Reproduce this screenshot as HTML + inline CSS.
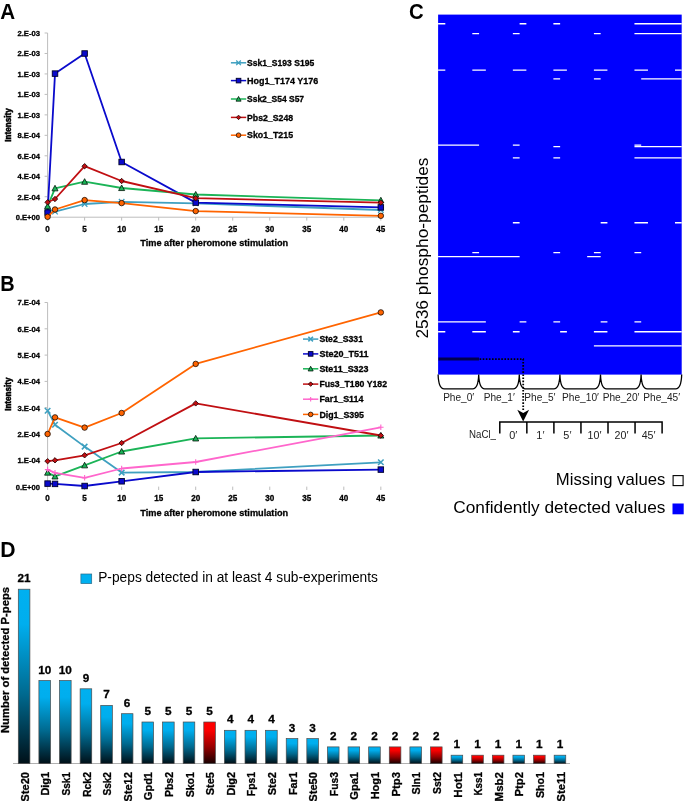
<!DOCTYPE html>
<html lang="en"><head><meta charset="utf-8"><title>Figure</title>
<style>html,body{margin:0;padding:0;background:#fff}svg{display:block}text{font-family:'Liberation Sans', sans-serif}</style>
</head><body>
<svg width="685" height="801" viewBox="0 0 685 801">
<rect width="685" height="801" fill="#fff"/>
<g id="panelA">
<path d="M47.60 33.00V217.20" fill="none" stroke="#bdbdbd" stroke-width="1"/>
<path d="M47.60 217.20H380.83" fill="none" stroke="#bdbdbd" stroke-width="1"/>
<path d="M44.60 217.20H47.60" stroke="#bdbdbd" stroke-width="1"/>
<text x="40.00" y="220.10" font-size="8.05" font-weight="bold" stroke="#000" stroke-width="0.3" text-anchor="end" textLength="24.27" lengthAdjust="spacingAndGlyphs">0.E+00</text>
<path d="M44.60 196.73H47.60" stroke="#bdbdbd" stroke-width="1"/>
<text x="40.00" y="199.63" font-size="8.05" font-weight="bold" stroke="#000" stroke-width="0.3" text-anchor="end" textLength="22.59" lengthAdjust="spacingAndGlyphs">2.E-04</text>
<path d="M44.60 176.27H47.60" stroke="#bdbdbd" stroke-width="1"/>
<text x="40.00" y="179.17" font-size="8.05" font-weight="bold" stroke="#000" stroke-width="0.3" text-anchor="end" textLength="22.59" lengthAdjust="spacingAndGlyphs">4.E-04</text>
<path d="M44.60 155.80H47.60" stroke="#bdbdbd" stroke-width="1"/>
<text x="40.00" y="158.70" font-size="8.05" font-weight="bold" stroke="#000" stroke-width="0.3" text-anchor="end" textLength="22.59" lengthAdjust="spacingAndGlyphs">6.E-04</text>
<path d="M44.60 135.33H47.60" stroke="#bdbdbd" stroke-width="1"/>
<text x="40.00" y="138.23" font-size="8.05" font-weight="bold" stroke="#000" stroke-width="0.3" text-anchor="end" textLength="22.59" lengthAdjust="spacingAndGlyphs">8.E-04</text>
<path d="M44.60 114.87H47.60" stroke="#bdbdbd" stroke-width="1"/>
<text x="40.00" y="117.77" font-size="8.05" font-weight="bold" stroke="#000" stroke-width="0.3" text-anchor="end" textLength="22.59" lengthAdjust="spacingAndGlyphs">1.E-03</text>
<path d="M44.60 94.40H47.60" stroke="#bdbdbd" stroke-width="1"/>
<text x="40.00" y="97.30" font-size="8.05" font-weight="bold" stroke="#000" stroke-width="0.3" text-anchor="end" textLength="22.59" lengthAdjust="spacingAndGlyphs">1.E-03</text>
<path d="M44.60 73.93H47.60" stroke="#bdbdbd" stroke-width="1"/>
<text x="40.00" y="76.83" font-size="8.05" font-weight="bold" stroke="#000" stroke-width="0.3" text-anchor="end" textLength="22.59" lengthAdjust="spacingAndGlyphs">1.E-03</text>
<path d="M44.60 53.47H47.60" stroke="#bdbdbd" stroke-width="1"/>
<text x="40.00" y="56.37" font-size="8.05" font-weight="bold" stroke="#000" stroke-width="0.3" text-anchor="end" textLength="22.59" lengthAdjust="spacingAndGlyphs">2.E-03</text>
<path d="M44.60 33.00H47.60" stroke="#bdbdbd" stroke-width="1"/>
<text x="40.00" y="35.90" font-size="8.05" font-weight="bold" stroke="#000" stroke-width="0.3" text-anchor="end" textLength="22.59" lengthAdjust="spacingAndGlyphs">2.E-03</text>
<path d="M47.60 217.20v3.4" stroke="#bdbdbd" stroke-width="1"/>
<text x="47.60" y="231.60" font-size="8.19" font-weight="bold" stroke="#000" stroke-width="0.3" text-anchor="middle" textLength="4.51" lengthAdjust="spacingAndGlyphs">0</text>
<path d="M84.62 217.20v3.4" stroke="#bdbdbd" stroke-width="1"/>
<text x="84.62" y="231.60" font-size="8.19" font-weight="bold" stroke="#000" stroke-width="0.3" text-anchor="middle" textLength="4.51" lengthAdjust="spacingAndGlyphs">5</text>
<path d="M121.65 217.20v3.4" stroke="#bdbdbd" stroke-width="1"/>
<text x="121.65" y="231.60" font-size="8.19" font-weight="bold" stroke="#000" stroke-width="0.3" text-anchor="middle" textLength="9.02" lengthAdjust="spacingAndGlyphs">10</text>
<path d="M158.68 217.20v3.4" stroke="#bdbdbd" stroke-width="1"/>
<text x="158.68" y="231.60" font-size="8.19" font-weight="bold" stroke="#000" stroke-width="0.3" text-anchor="middle" textLength="9.02" lengthAdjust="spacingAndGlyphs">15</text>
<path d="M195.70 217.20v3.4" stroke="#bdbdbd" stroke-width="1"/>
<text x="195.70" y="231.60" font-size="8.19" font-weight="bold" stroke="#000" stroke-width="0.3" text-anchor="middle" textLength="9.02" lengthAdjust="spacingAndGlyphs">20</text>
<path d="M232.72 217.20v3.4" stroke="#bdbdbd" stroke-width="1"/>
<text x="232.72" y="231.60" font-size="8.19" font-weight="bold" stroke="#000" stroke-width="0.3" text-anchor="middle" textLength="9.02" lengthAdjust="spacingAndGlyphs">25</text>
<path d="M269.75 217.20v3.4" stroke="#bdbdbd" stroke-width="1"/>
<text x="269.75" y="231.60" font-size="8.19" font-weight="bold" stroke="#000" stroke-width="0.3" text-anchor="middle" textLength="9.02" lengthAdjust="spacingAndGlyphs">30</text>
<path d="M306.78 217.20v3.4" stroke="#bdbdbd" stroke-width="1"/>
<text x="306.78" y="231.60" font-size="8.19" font-weight="bold" stroke="#000" stroke-width="0.3" text-anchor="middle" textLength="9.02" lengthAdjust="spacingAndGlyphs">35</text>
<path d="M343.80 217.20v3.4" stroke="#bdbdbd" stroke-width="1"/>
<text x="343.80" y="231.60" font-size="8.19" font-weight="bold" stroke="#000" stroke-width="0.3" text-anchor="middle" textLength="9.02" lengthAdjust="spacingAndGlyphs">40</text>
<path d="M380.83 217.20v3.4" stroke="#bdbdbd" stroke-width="1"/>
<text x="380.83" y="231.60" font-size="8.19" font-weight="bold" stroke="#000" stroke-width="0.3" text-anchor="middle" textLength="9.02" lengthAdjust="spacingAndGlyphs">45</text>
<text x="214.21" y="246.00" font-size="9.48" font-weight="bold" stroke="#000" stroke-width="0.3" text-anchor="middle" textLength="147.92" lengthAdjust="spacingAndGlyphs">Time after pheromone stimulation</text>
<text x="10.90" y="125.00" font-size="8.37" font-weight="bold" stroke="#000" stroke-width="0.5" text-anchor="middle" textLength="33.28" lengthAdjust="spacingAndGlyphs" transform="rotate(-90 10.90 125.00)">Intensity</text>
<path d="M47.60 209.30L55.01 211.60L84.62 204.00L121.65 201.80L195.70 203.40L380.83 210.00" fill="none" stroke="#3fa0c0" stroke-width="1.8" stroke-linejoin="round"/>
<path d="M44.85 206.55L50.35 212.05M44.85 212.05L50.35 206.55M44.85 209.30L50.35 209.30" fill="none" stroke="#3fa0c0" stroke-width="1.3"/>
<path d="M52.26 208.85L57.76 214.35M52.26 214.35L57.76 208.85M52.26 211.60L57.76 211.60" fill="none" stroke="#3fa0c0" stroke-width="1.3"/>
<path d="M81.88 201.25L87.38 206.75M81.88 206.75L87.38 201.25M81.88 204.00L87.38 204.00" fill="none" stroke="#3fa0c0" stroke-width="1.3"/>
<path d="M118.90 199.05L124.40 204.55M118.90 204.55L124.40 199.05M118.90 201.80L124.40 201.80" fill="none" stroke="#3fa0c0" stroke-width="1.3"/>
<path d="M192.95 200.65L198.45 206.15M192.95 206.15L198.45 200.65M192.95 203.40L198.45 203.40" fill="none" stroke="#3fa0c0" stroke-width="1.3"/>
<path d="M378.08 207.25L383.58 212.75M378.08 212.75L383.58 207.25M378.08 210.00L383.58 210.00" fill="none" stroke="#3fa0c0" stroke-width="1.3"/>
<path d="M47.60 212.60L55.01 73.60L84.62 53.50L121.65 162.00L195.70 202.60L380.83 207.40" fill="none" stroke="#0a0acc" stroke-width="1.8" stroke-linejoin="round"/>
<rect x="44.85" y="209.85" width="5.50" height="5.50" fill="#0a0acc" stroke="#000028" stroke-width="0.9"/>
<rect x="52.26" y="70.85" width="5.50" height="5.50" fill="#0a0acc" stroke="#000028" stroke-width="0.9"/>
<rect x="81.88" y="50.75" width="5.50" height="5.50" fill="#0a0acc" stroke="#000028" stroke-width="0.9"/>
<rect x="118.90" y="159.25" width="5.50" height="5.50" fill="#0a0acc" stroke="#000028" stroke-width="0.9"/>
<rect x="192.95" y="199.85" width="5.50" height="5.50" fill="#0a0acc" stroke="#000028" stroke-width="0.9"/>
<rect x="378.08" y="204.65" width="5.50" height="5.50" fill="#0a0acc" stroke="#000028" stroke-width="0.9"/>
<path d="M47.60 206.30L55.01 188.30L84.62 181.70L121.65 188.00L195.70 194.50L380.83 200.30" fill="none" stroke="#1bb457" stroke-width="1.8" stroke-linejoin="round"/>
<path d="M47.60 203.28L50.62 208.87L44.58 208.87Z" fill="#1bb457" stroke="#001408" stroke-width="0.8"/>
<path d="M55.01 185.28L58.03 190.87L51.98 190.87Z" fill="#1bb457" stroke="#001408" stroke-width="0.8"/>
<path d="M84.62 178.67L87.65 184.27L81.60 184.27Z" fill="#1bb457" stroke="#001408" stroke-width="0.8"/>
<path d="M121.65 184.97L124.68 190.57L118.62 190.57Z" fill="#1bb457" stroke="#001408" stroke-width="0.8"/>
<path d="M195.70 191.47L198.72 197.07L192.67 197.07Z" fill="#1bb457" stroke="#001408" stroke-width="0.8"/>
<path d="M380.83 197.28L383.85 202.87L377.80 202.87Z" fill="#1bb457" stroke="#001408" stroke-width="0.8"/>
<path d="M47.60 202.30L55.01 199.00L84.62 166.20L121.65 181.00L195.70 198.20L380.83 202.60" fill="none" stroke="#c00f12" stroke-width="1.8" stroke-linejoin="round"/>
<path d="M47.60 199.61L50.30 202.30L47.60 205.00L44.91 202.30Z" fill="#c00f12" stroke="#1a0000" stroke-width="0.8"/>
<path d="M55.01 196.31L57.70 199.00L55.01 201.69L52.31 199.00Z" fill="#c00f12" stroke="#1a0000" stroke-width="0.8"/>
<path d="M84.62 163.50L87.32 166.20L84.62 168.89L81.93 166.20Z" fill="#c00f12" stroke="#1a0000" stroke-width="0.8"/>
<path d="M121.65 178.31L124.34 181.00L121.65 183.69L118.96 181.00Z" fill="#c00f12" stroke="#1a0000" stroke-width="0.8"/>
<path d="M195.70 195.50L198.39 198.20L195.70 200.89L193.00 198.20Z" fill="#c00f12" stroke="#1a0000" stroke-width="0.8"/>
<path d="M380.83 199.91L383.52 202.60L380.83 205.29L378.13 202.60Z" fill="#c00f12" stroke="#1a0000" stroke-width="0.8"/>
<path d="M47.60 216.80L55.01 209.50L84.62 200.10L121.65 203.10L195.70 211.10L380.83 215.80" fill="none" stroke="#ff6400" stroke-width="1.8" stroke-linejoin="round"/>
<circle cx="47.60" cy="216.80" r="2.75" fill="#ff6400" stroke="#1a0a00" stroke-width="0.8"/>
<circle cx="55.01" cy="209.50" r="2.75" fill="#ff6400" stroke="#1a0a00" stroke-width="0.8"/>
<circle cx="84.62" cy="200.10" r="2.75" fill="#ff6400" stroke="#1a0a00" stroke-width="0.8"/>
<circle cx="121.65" cy="203.10" r="2.75" fill="#ff6400" stroke="#1a0a00" stroke-width="0.8"/>
<circle cx="195.70" cy="211.10" r="2.75" fill="#ff6400" stroke="#1a0a00" stroke-width="0.8"/>
<circle cx="380.83" cy="215.80" r="2.75" fill="#ff6400" stroke="#1a0a00" stroke-width="0.8"/>
<path d="M230.90 62.80H246.20" stroke="#3fa0c0" stroke-width="1.5"/>
<path d="M236.25 60.50L240.85 65.10M236.25 65.10L240.85 60.50M236.25 62.80L240.85 62.80" fill="none" stroke="#3fa0c0" stroke-width="1.3"/>
<text x="247.00" y="65.90" font-size="9.3" font-weight="bold" stroke="#000" stroke-width="0.3" textLength="67.20" lengthAdjust="spacingAndGlyphs">Ssk1_S193 S195</text>
<path d="M230.90 80.60H246.20" stroke="#0a0acc" stroke-width="1.5"/>
<rect x="236.25" y="78.30" width="4.60" height="4.60" fill="#0a0acc" stroke="#000028" stroke-width="0.9"/>
<text x="247.00" y="83.70" font-size="9.3" font-weight="bold" stroke="#000" stroke-width="0.3" textLength="71.30" lengthAdjust="spacingAndGlyphs">Hog1_T174 Y176</text>
<path d="M230.90 99.00H246.20" stroke="#1bb457" stroke-width="1.5"/>
<path d="M238.55 96.47L241.08 101.15L236.02 101.15Z" fill="#1bb457" stroke="#001408" stroke-width="0.8"/>
<text x="247.00" y="102.10" font-size="9.3" font-weight="bold" stroke="#000" stroke-width="0.3" textLength="57.10" lengthAdjust="spacingAndGlyphs">Ssk2_S54 S57</text>
<path d="M230.90 117.40H246.20" stroke="#c00f12" stroke-width="1.5"/>
<path d="M238.55 115.15L240.80 117.40L238.55 119.65L236.30 117.40Z" fill="#c00f12" stroke="#1a0000" stroke-width="0.8"/>
<text x="247.00" y="120.50" font-size="9.3" font-weight="bold" stroke="#000" stroke-width="0.3" textLength="46.10" lengthAdjust="spacingAndGlyphs">Pbs2_S248</text>
<path d="M230.90 135.20H246.20" stroke="#ff6400" stroke-width="1.5"/>
<circle cx="238.55" cy="135.20" r="2.30" fill="#ff6400" stroke="#1a0a00" stroke-width="0.8"/>
<text x="247.00" y="138.30" font-size="9.3" font-weight="bold" stroke="#000" stroke-width="0.3" textLength="46.10" lengthAdjust="spacingAndGlyphs">Sko1_T215</text>
<text x="0.20" y="18.90" font-size="22.1" font-weight="bold" textLength="14.90" lengthAdjust="spacingAndGlyphs">A</text>
</g>
<g id="panelB">
<path d="M47.60 302.50V486.60" fill="none" stroke="#bdbdbd" stroke-width="1"/>
<path d="M44.60 486.60H47.60" stroke="#bdbdbd" stroke-width="1"/>
<text x="40.00" y="489.50" font-size="8.05" font-weight="bold" stroke="#000" stroke-width="0.3" text-anchor="end" textLength="24.27" lengthAdjust="spacingAndGlyphs">0.E+00</text>
<path d="M44.60 460.30H47.60" stroke="#bdbdbd" stroke-width="1"/>
<text x="40.00" y="463.20" font-size="8.05" font-weight="bold" stroke="#000" stroke-width="0.3" text-anchor="end" textLength="22.59" lengthAdjust="spacingAndGlyphs">1.E-04</text>
<path d="M44.60 434.00H47.60" stroke="#bdbdbd" stroke-width="1"/>
<text x="40.00" y="436.90" font-size="8.05" font-weight="bold" stroke="#000" stroke-width="0.3" text-anchor="end" textLength="22.59" lengthAdjust="spacingAndGlyphs">2.E-04</text>
<path d="M44.60 407.70H47.60" stroke="#bdbdbd" stroke-width="1"/>
<text x="40.00" y="410.60" font-size="8.05" font-weight="bold" stroke="#000" stroke-width="0.3" text-anchor="end" textLength="22.59" lengthAdjust="spacingAndGlyphs">3.E-04</text>
<path d="M44.60 381.40H47.60" stroke="#bdbdbd" stroke-width="1"/>
<text x="40.00" y="384.30" font-size="8.05" font-weight="bold" stroke="#000" stroke-width="0.3" text-anchor="end" textLength="22.59" lengthAdjust="spacingAndGlyphs">4.E-04</text>
<path d="M44.60 355.10H47.60" stroke="#bdbdbd" stroke-width="1"/>
<text x="40.00" y="358.00" font-size="8.05" font-weight="bold" stroke="#000" stroke-width="0.3" text-anchor="end" textLength="22.59" lengthAdjust="spacingAndGlyphs">5.E-04</text>
<path d="M44.60 328.80H47.60" stroke="#bdbdbd" stroke-width="1"/>
<text x="40.00" y="331.70" font-size="8.05" font-weight="bold" stroke="#000" stroke-width="0.3" text-anchor="end" textLength="22.59" lengthAdjust="spacingAndGlyphs">6.E-04</text>
<path d="M44.60 302.50H47.60" stroke="#bdbdbd" stroke-width="1"/>
<text x="40.00" y="305.40" font-size="8.05" font-weight="bold" stroke="#000" stroke-width="0.3" text-anchor="end" textLength="22.59" lengthAdjust="spacingAndGlyphs">7.E-04</text>
<path d="M47.60 486.60v3.4" stroke="#bdbdbd" stroke-width="1"/>
<text x="47.60" y="501.40" font-size="8.19" font-weight="bold" stroke="#000" stroke-width="0.3" text-anchor="middle" textLength="4.51" lengthAdjust="spacingAndGlyphs">0</text>
<path d="M84.62 486.60v3.4" stroke="#bdbdbd" stroke-width="1"/>
<text x="84.62" y="501.40" font-size="8.19" font-weight="bold" stroke="#000" stroke-width="0.3" text-anchor="middle" textLength="4.51" lengthAdjust="spacingAndGlyphs">5</text>
<path d="M121.65 486.60v3.4" stroke="#bdbdbd" stroke-width="1"/>
<text x="121.65" y="501.40" font-size="8.19" font-weight="bold" stroke="#000" stroke-width="0.3" text-anchor="middle" textLength="9.02" lengthAdjust="spacingAndGlyphs">10</text>
<path d="M158.68 486.60v3.4" stroke="#bdbdbd" stroke-width="1"/>
<text x="158.68" y="501.40" font-size="8.19" font-weight="bold" stroke="#000" stroke-width="0.3" text-anchor="middle" textLength="9.02" lengthAdjust="spacingAndGlyphs">15</text>
<path d="M195.70 486.60v3.4" stroke="#bdbdbd" stroke-width="1"/>
<text x="195.70" y="501.40" font-size="8.19" font-weight="bold" stroke="#000" stroke-width="0.3" text-anchor="middle" textLength="9.02" lengthAdjust="spacingAndGlyphs">20</text>
<path d="M232.72 486.60v3.4" stroke="#bdbdbd" stroke-width="1"/>
<text x="232.72" y="501.40" font-size="8.19" font-weight="bold" stroke="#000" stroke-width="0.3" text-anchor="middle" textLength="9.02" lengthAdjust="spacingAndGlyphs">25</text>
<path d="M269.75 486.60v3.4" stroke="#bdbdbd" stroke-width="1"/>
<text x="269.75" y="501.40" font-size="8.19" font-weight="bold" stroke="#000" stroke-width="0.3" text-anchor="middle" textLength="9.02" lengthAdjust="spacingAndGlyphs">30</text>
<path d="M306.78 486.60v3.4" stroke="#bdbdbd" stroke-width="1"/>
<text x="306.78" y="501.40" font-size="8.19" font-weight="bold" stroke="#000" stroke-width="0.3" text-anchor="middle" textLength="9.02" lengthAdjust="spacingAndGlyphs">35</text>
<path d="M343.80 486.60v3.4" stroke="#bdbdbd" stroke-width="1"/>
<text x="343.80" y="501.40" font-size="8.19" font-weight="bold" stroke="#000" stroke-width="0.3" text-anchor="middle" textLength="9.02" lengthAdjust="spacingAndGlyphs">40</text>
<path d="M380.83 486.60v3.4" stroke="#bdbdbd" stroke-width="1"/>
<text x="380.83" y="501.40" font-size="8.19" font-weight="bold" stroke="#000" stroke-width="0.3" text-anchor="middle" textLength="9.02" lengthAdjust="spacingAndGlyphs">45</text>
<text x="214.21" y="515.60" font-size="9.48" font-weight="bold" stroke="#000" stroke-width="0.3" text-anchor="middle" textLength="147.92" lengthAdjust="spacingAndGlyphs">Time after pheromone stimulation</text>
<text x="10.90" y="394.20" font-size="8.37" font-weight="bold" stroke="#000" stroke-width="0.5" text-anchor="middle" textLength="33.28" lengthAdjust="spacingAndGlyphs" transform="rotate(-90 10.90 394.20)">Intensity</text>
<path d="M47.60 410.70L55.01 424.70L84.62 446.60L121.65 472.60L195.70 472.00L380.83 462.30" fill="none" stroke="#3fa0c0" stroke-width="1.8" stroke-linejoin="round"/>
<path d="M44.85 407.95L50.35 413.45M44.85 413.45L50.35 407.95" fill="none" stroke="#3fa0c0" stroke-width="1.6"/>
<path d="M52.26 421.95L57.76 427.45M52.26 427.45L57.76 421.95" fill="none" stroke="#3fa0c0" stroke-width="1.6"/>
<path d="M81.88 443.85L87.38 449.35M81.88 449.35L87.38 443.85" fill="none" stroke="#3fa0c0" stroke-width="1.6"/>
<path d="M118.90 469.85L124.40 475.35M118.90 475.35L124.40 469.85" fill="none" stroke="#3fa0c0" stroke-width="1.6"/>
<path d="M192.95 469.25L198.45 474.75M192.95 474.75L198.45 469.25" fill="none" stroke="#3fa0c0" stroke-width="1.6"/>
<path d="M378.08 459.55L383.58 465.05M378.08 465.05L383.58 459.55" fill="none" stroke="#3fa0c0" stroke-width="1.6"/>
<path d="M47.60 483.60L55.01 483.90L84.62 486.00L121.65 481.30L195.70 472.00L380.83 469.60" fill="none" stroke="#0a0acc" stroke-width="1.8" stroke-linejoin="round"/>
<rect x="44.85" y="480.85" width="5.50" height="5.50" fill="#0a0acc" stroke="#000028" stroke-width="0.9"/>
<rect x="52.26" y="481.15" width="5.50" height="5.50" fill="#0a0acc" stroke="#000028" stroke-width="0.9"/>
<rect x="81.88" y="483.25" width="5.50" height="5.50" fill="#0a0acc" stroke="#000028" stroke-width="0.9"/>
<rect x="118.90" y="478.55" width="5.50" height="5.50" fill="#0a0acc" stroke="#000028" stroke-width="0.9"/>
<rect x="192.95" y="469.25" width="5.50" height="5.50" fill="#0a0acc" stroke="#000028" stroke-width="0.9"/>
<rect x="378.08" y="466.85" width="5.50" height="5.50" fill="#0a0acc" stroke="#000028" stroke-width="0.9"/>
<path d="M47.60 472.60L55.01 476.40L84.62 465.30L121.65 451.50L195.70 438.40L380.83 435.50" fill="none" stroke="#1bb457" stroke-width="1.8" stroke-linejoin="round"/>
<path d="M47.60 469.58L50.62 475.17L44.58 475.17Z" fill="#1bb457" stroke="#001408" stroke-width="0.8"/>
<path d="M55.01 473.38L58.03 478.97L51.98 478.97Z" fill="#1bb457" stroke="#001408" stroke-width="0.8"/>
<path d="M84.62 462.28L87.65 467.87L81.60 467.87Z" fill="#1bb457" stroke="#001408" stroke-width="0.8"/>
<path d="M121.65 448.48L124.68 454.07L118.62 454.07Z" fill="#1bb457" stroke="#001408" stroke-width="0.8"/>
<path d="M195.70 435.38L198.72 440.97L192.67 440.97Z" fill="#1bb457" stroke="#001408" stroke-width="0.8"/>
<path d="M380.83 432.48L383.85 438.07L377.80 438.07Z" fill="#1bb457" stroke="#001408" stroke-width="0.8"/>
<path d="M47.60 461.20L55.01 460.30L84.62 455.30L121.65 443.00L195.70 403.40L380.83 435.50" fill="none" stroke="#c00f12" stroke-width="1.8" stroke-linejoin="round"/>
<path d="M47.60 458.50L50.30 461.20L47.60 463.89L44.91 461.20Z" fill="#c00f12" stroke="#1a0000" stroke-width="0.8"/>
<path d="M55.01 457.61L57.70 460.30L55.01 463.00L52.31 460.30Z" fill="#c00f12" stroke="#1a0000" stroke-width="0.8"/>
<path d="M84.62 452.61L87.32 455.30L84.62 458.00L81.93 455.30Z" fill="#c00f12" stroke="#1a0000" stroke-width="0.8"/>
<path d="M121.65 440.31L124.34 443.00L121.65 445.69L118.96 443.00Z" fill="#c00f12" stroke="#1a0000" stroke-width="0.8"/>
<path d="M195.70 400.70L198.39 403.40L195.70 406.09L193.00 403.40Z" fill="#c00f12" stroke="#1a0000" stroke-width="0.8"/>
<path d="M380.83 432.81L383.52 435.50L380.83 438.19L378.13 435.50Z" fill="#c00f12" stroke="#1a0000" stroke-width="0.8"/>
<path d="M47.60 469.60L55.01 472.80L84.62 477.80L121.65 468.50L195.70 462.00L380.83 427.30" fill="none" stroke="#ff66cc" stroke-width="1.8" stroke-linejoin="round"/>
<path d="M44.85 469.60L50.35 469.60M47.60 466.85L47.60 472.35" fill="none" stroke="#ff66cc" stroke-width="1.1"/>
<path d="M52.26 472.80L57.76 472.80M55.01 470.05L55.01 475.55" fill="none" stroke="#ff66cc" stroke-width="1.1"/>
<path d="M81.88 477.80L87.38 477.80M84.62 475.05L84.62 480.55" fill="none" stroke="#ff66cc" stroke-width="1.1"/>
<path d="M118.90 468.50L124.40 468.50M121.65 465.75L121.65 471.25" fill="none" stroke="#ff66cc" stroke-width="1.1"/>
<path d="M192.95 462.00L198.45 462.00M195.70 459.25L195.70 464.75" fill="none" stroke="#ff66cc" stroke-width="1.1"/>
<path d="M378.08 427.30L383.58 427.30M380.83 424.55L380.83 430.05" fill="none" stroke="#ff66cc" stroke-width="1.1"/>
<path d="M47.60 434.00L55.01 417.40L84.62 427.60L121.65 413.00L195.70 363.90L380.83 312.40" fill="none" stroke="#ff6400" stroke-width="1.8" stroke-linejoin="round"/>
<circle cx="47.60" cy="434.00" r="2.75" fill="#ff6400" stroke="#1a0a00" stroke-width="0.8"/>
<circle cx="55.01" cy="417.40" r="2.75" fill="#ff6400" stroke="#1a0a00" stroke-width="0.8"/>
<circle cx="84.62" cy="427.60" r="2.75" fill="#ff6400" stroke="#1a0a00" stroke-width="0.8"/>
<circle cx="121.65" cy="413.00" r="2.75" fill="#ff6400" stroke="#1a0a00" stroke-width="0.8"/>
<circle cx="195.70" cy="363.90" r="2.75" fill="#ff6400" stroke="#1a0a00" stroke-width="0.8"/>
<circle cx="380.83" cy="312.40" r="2.75" fill="#ff6400" stroke="#1a0a00" stroke-width="0.8"/>
<path d="M303.00 339.10H318.30" stroke="#3fa0c0" stroke-width="1.5"/>
<path d="M308.35 336.80L312.95 341.40M308.35 341.40L312.95 336.80" fill="none" stroke="#3fa0c0" stroke-width="1.6"/>
<text x="319.40" y="342.20" font-size="9.3" font-weight="bold" stroke="#000" stroke-width="0.3" textLength="43.60" lengthAdjust="spacingAndGlyphs">Ste2_S331</text>
<path d="M303.00 353.90H318.30" stroke="#0a0acc" stroke-width="1.5"/>
<rect x="308.35" y="351.60" width="4.60" height="4.60" fill="#0a0acc" stroke="#000028" stroke-width="0.9"/>
<text x="319.40" y="357.00" font-size="9.3" font-weight="bold" stroke="#000" stroke-width="0.3" textLength="49.10" lengthAdjust="spacingAndGlyphs">Ste20_T511</text>
<path d="M303.00 368.80H318.30" stroke="#1bb457" stroke-width="1.5"/>
<path d="M310.65 366.27L313.18 370.95L308.12 370.95Z" fill="#1bb457" stroke="#001408" stroke-width="0.8"/>
<text x="319.40" y="371.90" font-size="9.3" font-weight="bold" stroke="#000" stroke-width="0.3" textLength="49.10" lengthAdjust="spacingAndGlyphs">Ste11_S323</text>
<path d="M303.00 384.10H318.30" stroke="#c00f12" stroke-width="1.5"/>
<path d="M310.65 381.85L312.90 384.10L310.65 386.35L308.40 384.10Z" fill="#c00f12" stroke="#1a0000" stroke-width="0.8"/>
<text x="319.40" y="387.20" font-size="9.3" font-weight="bold" stroke="#000" stroke-width="0.3" textLength="67.60" lengthAdjust="spacingAndGlyphs">Fus3_T180 Y182</text>
<path d="M303.00 399.20H318.30" stroke="#ff66cc" stroke-width="1.5"/>
<path d="M308.35 399.20L312.95 399.20M310.65 396.90L310.65 401.50" fill="none" stroke="#ff66cc" stroke-width="1.1"/>
<text x="319.40" y="402.30" font-size="9.3" font-weight="bold" stroke="#000" stroke-width="0.3" textLength="44.10" lengthAdjust="spacingAndGlyphs">Far1_S114</text>
<path d="M303.00 414.40H318.30" stroke="#ff6400" stroke-width="1.5"/>
<circle cx="310.65" cy="414.40" r="2.30" fill="#ff6400" stroke="#1a0a00" stroke-width="0.8"/>
<text x="319.40" y="417.50" font-size="9.3" font-weight="bold" stroke="#000" stroke-width="0.3" textLength="44.60" lengthAdjust="spacingAndGlyphs">Dig1_S395</text>
<text x="0.20" y="291.30" font-size="22.1" font-weight="bold" textLength="14.40" lengthAdjust="spacingAndGlyphs">B</text>
</g>
<g id="panelC">
<rect x="438.1" y="14.6" width="243.60" height="360.00" fill="#0000fe"/>
<path d="M438.10 23.75H445.31M519.61 23.75H526.37M553.38 23.75H560.14M634.45 23.75H681.70M472.32 33.65H479.08M512.86 33.65H519.61M593.91 33.65H600.67M634.45 33.65H681.70M438.10 70.15H445.31M472.32 70.15H485.84M512.86 70.15H526.37M553.38 70.15H566.89M593.91 70.15H607.42M634.45 70.15H647.96M674.98 70.15H681.70M553.38 78.85H560.14M593.91 78.85H600.67M641.20 78.85H681.70M438.10 145.15H479.08M512.86 145.15H519.61M634.45 145.15H641.20M553.38 146.65H560.14M634.45 146.65H681.70M512.86 157.95H519.61M553.38 157.95H560.14M634.45 157.95H681.70M512.86 222.75H519.61M600.67 222.75H607.42M634.45 222.75H647.96M674.98 222.75H681.70M472.32 252.65H479.08M553.38 252.65H560.14M593.91 252.65H600.67M634.45 252.65H641.20M438.10 256.65H519.61M587.16 256.65H600.67M438.10 321.85H485.84M519.61 321.85H526.37M553.38 321.85H560.14M600.67 321.85H607.42M634.45 321.85H641.20M438.10 331.75H445.31M472.32 331.75H485.84M512.86 331.75H519.61M560.14 331.75H566.89M593.91 331.75H607.42M634.45 331.75H681.70M593.91 345.95H681.70" stroke="#fff" stroke-width="1.3" fill="none"/>
<path d="M438.50 359.1H479" stroke="#000050" stroke-width="3"/>
<path d="M479.6 359.1H523.2V411" stroke="#000" stroke-width="1.8" stroke-dasharray="1.6 1.5" fill="none"/>
<path d="M523.2 421.6L517.3 409.8L523.2 413.0L529.1 409.8Z" fill="#000"/>
<path d="M438.10 374.60C438.40 383.60 439.60 388.9 444.10 388.9H472.70C477.20 388.9 478.40 383.60 478.70 374.60M478.70 374.60C479.00 383.60 480.20 388.9 484.70 388.9H513.30C517.80 388.9 519.00 383.60 519.30 374.60M519.30 374.60C519.60 383.60 520.80 388.9 525.30 388.9H553.90C558.40 388.9 559.60 383.60 559.90 374.60M559.90 374.60C560.20 383.60 561.40 388.9 565.90 388.9H594.50C599.00 388.9 600.20 383.60 600.50 374.60M600.50 374.60C600.80 383.60 602.00 388.9 606.50 388.9H635.10C639.60 388.9 640.80 383.60 641.10 374.60M641.10 374.60C641.40 383.60 642.60 388.9 647.10 388.9H675.70C680.20 388.9 681.40 383.60 681.70 374.60" stroke="#000" stroke-width="1.3" fill="none"/>
<text x="458.70" y="400.60" font-size="10.4" text-anchor="middle" textLength="31.13" lengthAdjust="spacingAndGlyphs" fill="#222">Phe_0′</text>
<text x="499.30" y="400.60" font-size="10.4" text-anchor="middle" textLength="31.13" lengthAdjust="spacingAndGlyphs" fill="#222">Phe_1′</text>
<text x="539.90" y="400.60" font-size="10.4" text-anchor="middle" textLength="31.13" lengthAdjust="spacingAndGlyphs" fill="#222">Phe_5′</text>
<text x="580.50" y="400.60" font-size="10.4" text-anchor="middle" textLength="36.86" lengthAdjust="spacingAndGlyphs" fill="#222">Phe_10′</text>
<text x="621.10" y="400.60" font-size="10.4" text-anchor="middle" textLength="36.86" lengthAdjust="spacingAndGlyphs" fill="#222">Phe_20′</text>
<text x="661.70" y="400.60" font-size="10.4" text-anchor="middle" textLength="36.86" lengthAdjust="spacingAndGlyphs" fill="#222">Phe_45′</text>
<path d="M499.80 433.5V422.1H662.10V433.5M526.85 422.1V433.5M553.90 422.1V433.5M580.95 422.1V433.5M608.00 422.1V433.5M635.05 422.1V433.5" stroke="#000" stroke-width="1.5" fill="none"/>
<text x="469.00" y="437.80" font-size="10.4" textLength="26.95" lengthAdjust="spacingAndGlyphs" fill="#222">NaCl_</text>
<text x="513.33" y="439.00" font-size="10.4" text-anchor="middle" textLength="8.10" lengthAdjust="spacingAndGlyphs" fill="#222">0′</text>
<text x="540.38" y="439.00" font-size="10.4" text-anchor="middle" textLength="8.10" lengthAdjust="spacingAndGlyphs" fill="#222">1′</text>
<text x="567.42" y="439.00" font-size="10.4" text-anchor="middle" textLength="8.10" lengthAdjust="spacingAndGlyphs" fill="#222">5′</text>
<text x="594.48" y="439.00" font-size="10.4" text-anchor="middle" textLength="13.83" lengthAdjust="spacingAndGlyphs" fill="#222">10′</text>
<text x="621.52" y="439.00" font-size="10.4" text-anchor="middle" textLength="13.83" lengthAdjust="spacingAndGlyphs" fill="#222">20′</text>
<text x="648.58" y="439.00" font-size="10.4" text-anchor="middle" textLength="13.83" lengthAdjust="spacingAndGlyphs" fill="#222">45′</text>
<text x="665.40" y="484.80" font-size="17.11" text-anchor="end" textLength="109.57" lengthAdjust="spacingAndGlyphs">Missing values</text>
<rect x="673.1" y="475.6" width="10" height="10" fill="#fff" stroke="#000" stroke-width="1.1"/>
<text x="665.40" y="513.00" font-size="17.2" text-anchor="end" textLength="212.19" lengthAdjust="spacingAndGlyphs">Confidently detected values</text>
<rect x="672.5" y="503.5" width="11.2" height="10.8" fill="#0000fe"/>
<text x="427.80" y="248.00" font-size="17.3" text-anchor="middle" textLength="181.06" lengthAdjust="spacingAndGlyphs" transform="rotate(-90 427.80 248.00)">2536 phospho-peptides</text>
<text x="409.00" y="19.30" font-size="22.1" font-weight="bold" textLength="14.70" lengthAdjust="spacingAndGlyphs">C</text>
</g>
<g id="panelD">
<defs>
<linearGradient id="gb" x1="0" y1="0" x2="0" y2="1"><stop offset="0" stop-color="#00b0f0"/><stop offset="0.2" stop-color="#00aeee"/><stop offset="0.6" stop-color="#006a90"/><stop offset="1" stop-color="#001018"/></linearGradient>
<linearGradient id="gr" x1="0" y1="0" x2="0" y2="1"><stop offset="0" stop-color="#ff0000"/><stop offset="0.2" stop-color="#fc0000"/><stop offset="0.6" stop-color="#980000"/><stop offset="1" stop-color="#180000"/></linearGradient>
</defs>
<path d="M13 763.5H570" stroke="#b0b0b0" stroke-width="1"/>
<rect x="18.30" y="589.20" width="11.6" height="174.30" fill="url(#gb)" stroke="#4a4a4a" stroke-width="0.7"/>
<text x="24.10" y="582.20" font-size="11.09" font-weight="bold" stroke="#000" stroke-width="0.3" text-anchor="middle" textLength="13.08" lengthAdjust="spacingAndGlyphs">21</text>
<text x="28.70" y="772.00" font-size="11.68" font-weight="bold" stroke="#000" stroke-width="0.3" text-anchor="end" textLength="29.68" lengthAdjust="spacingAndGlyphs" transform="rotate(-90 28.70 772.00)">Ste20</text>
<rect x="38.91" y="680.50" width="11.6" height="83.00" fill="url(#gb)" stroke="#4a4a4a" stroke-width="0.7"/>
<text x="44.71" y="673.50" font-size="11.09" font-weight="bold" stroke="#000" stroke-width="0.3" text-anchor="middle" textLength="13.08" lengthAdjust="spacingAndGlyphs">10</text>
<text x="49.31" y="772.00" font-size="11.68" font-weight="bold" stroke="#000" stroke-width="0.3" text-anchor="end" textLength="23.58" lengthAdjust="spacingAndGlyphs" transform="rotate(-90 49.31 772.00)">Dig1</text>
<rect x="59.52" y="680.50" width="11.6" height="83.00" fill="url(#gb)" stroke="#4a4a4a" stroke-width="0.7"/>
<text x="65.32" y="673.50" font-size="11.09" font-weight="bold" stroke="#000" stroke-width="0.3" text-anchor="middle" textLength="13.08" lengthAdjust="spacingAndGlyphs">10</text>
<text x="69.92" y="772.00" font-size="11.68" font-weight="bold" stroke="#000" stroke-width="0.3" text-anchor="end" textLength="23.60" lengthAdjust="spacingAndGlyphs" transform="rotate(-90 69.92 772.00)">Ssk1</text>
<rect x="80.13" y="688.80" width="11.6" height="74.70" fill="url(#gb)" stroke="#4a4a4a" stroke-width="0.7"/>
<text x="85.93" y="681.80" font-size="11.09" font-weight="bold" stroke="#000" stroke-width="0.3" text-anchor="middle" textLength="6.54" lengthAdjust="spacingAndGlyphs">9</text>
<text x="90.53" y="772.00" font-size="11.68" font-weight="bold" stroke="#000" stroke-width="0.3" text-anchor="end" textLength="24.98" lengthAdjust="spacingAndGlyphs" transform="rotate(-90 90.53 772.00)">Rck2</text>
<rect x="100.74" y="705.40" width="11.6" height="58.10" fill="url(#gb)" stroke="#4a4a4a" stroke-width="0.7"/>
<text x="106.54" y="698.40" font-size="11.09" font-weight="bold" stroke="#000" stroke-width="0.3" text-anchor="middle" textLength="6.54" lengthAdjust="spacingAndGlyphs">7</text>
<text x="111.14" y="772.00" font-size="11.68" font-weight="bold" stroke="#000" stroke-width="0.3" text-anchor="end" textLength="23.60" lengthAdjust="spacingAndGlyphs" transform="rotate(-90 111.14 772.00)">Ssk2</text>
<rect x="121.35" y="713.70" width="11.6" height="49.80" fill="url(#gb)" stroke="#4a4a4a" stroke-width="0.7"/>
<text x="127.15" y="706.70" font-size="11.09" font-weight="bold" stroke="#000" stroke-width="0.3" text-anchor="middle" textLength="6.54" lengthAdjust="spacingAndGlyphs">6</text>
<text x="131.75" y="772.00" font-size="11.68" font-weight="bold" stroke="#000" stroke-width="0.3" text-anchor="end" textLength="29.68" lengthAdjust="spacingAndGlyphs" transform="rotate(-90 131.75 772.00)">Ste12</text>
<rect x="141.96" y="722.00" width="11.6" height="41.50" fill="url(#gb)" stroke="#4a4a4a" stroke-width="0.7"/>
<text x="147.76" y="715.00" font-size="11.09" font-weight="bold" stroke="#000" stroke-width="0.3" text-anchor="middle" textLength="6.54" lengthAdjust="spacingAndGlyphs">5</text>
<text x="152.36" y="772.00" font-size="11.68" font-weight="bold" stroke="#000" stroke-width="0.3" text-anchor="end" textLength="28.17" lengthAdjust="spacingAndGlyphs" transform="rotate(-90 152.36 772.00)">Gpd1</text>
<rect x="162.57" y="722.00" width="11.6" height="41.50" fill="url(#gb)" stroke="#4a4a4a" stroke-width="0.7"/>
<text x="168.37" y="715.00" font-size="11.09" font-weight="bold" stroke="#000" stroke-width="0.3" text-anchor="middle" textLength="6.54" lengthAdjust="spacingAndGlyphs">5</text>
<text x="172.97" y="772.00" font-size="11.68" font-weight="bold" stroke="#000" stroke-width="0.3" text-anchor="end" textLength="25.08" lengthAdjust="spacingAndGlyphs" transform="rotate(-90 172.97 772.00)">Pbs2</text>
<rect x="183.18" y="722.00" width="11.6" height="41.50" fill="url(#gb)" stroke="#4a4a4a" stroke-width="0.7"/>
<text x="188.98" y="715.00" font-size="11.09" font-weight="bold" stroke="#000" stroke-width="0.3" text-anchor="middle" textLength="6.54" lengthAdjust="spacingAndGlyphs">5</text>
<text x="193.58" y="772.00" font-size="11.68" font-weight="bold" stroke="#000" stroke-width="0.3" text-anchor="end" textLength="25.36" lengthAdjust="spacingAndGlyphs" transform="rotate(-90 193.58 772.00)">Sko1</text>
<rect x="203.79" y="722.00" width="11.6" height="41.50" fill="url(#gr)" stroke="#4a4a4a" stroke-width="0.7"/>
<text x="209.59" y="715.00" font-size="11.09" font-weight="bold" stroke="#000" stroke-width="0.3" text-anchor="middle" textLength="6.54" lengthAdjust="spacingAndGlyphs">5</text>
<text x="214.19" y="772.00" font-size="11.68" font-weight="bold" stroke="#000" stroke-width="0.3" text-anchor="end" textLength="23.24" lengthAdjust="spacingAndGlyphs" transform="rotate(-90 214.19 772.00)">Ste5</text>
<rect x="224.40" y="730.30" width="11.6" height="33.20" fill="url(#gb)" stroke="#4a4a4a" stroke-width="0.7"/>
<text x="230.20" y="723.30" font-size="11.09" font-weight="bold" stroke="#000" stroke-width="0.3" text-anchor="middle" textLength="6.54" lengthAdjust="spacingAndGlyphs">4</text>
<text x="234.80" y="772.00" font-size="11.68" font-weight="bold" stroke="#000" stroke-width="0.3" text-anchor="end" textLength="23.58" lengthAdjust="spacingAndGlyphs" transform="rotate(-90 234.80 772.00)">Dig2</text>
<rect x="245.01" y="730.30" width="11.6" height="33.20" fill="url(#gb)" stroke="#4a4a4a" stroke-width="0.7"/>
<text x="250.81" y="723.30" font-size="11.09" font-weight="bold" stroke="#000" stroke-width="0.3" text-anchor="middle" textLength="6.54" lengthAdjust="spacingAndGlyphs">4</text>
<text x="255.41" y="772.00" font-size="11.68" font-weight="bold" stroke="#000" stroke-width="0.3" text-anchor="end" textLength="24.16" lengthAdjust="spacingAndGlyphs" transform="rotate(-90 255.41 772.00)">Fps1</text>
<rect x="265.62" y="730.30" width="11.6" height="33.20" fill="url(#gb)" stroke="#4a4a4a" stroke-width="0.7"/>
<text x="271.42" y="723.30" font-size="11.09" font-weight="bold" stroke="#000" stroke-width="0.3" text-anchor="middle" textLength="6.54" lengthAdjust="spacingAndGlyphs">4</text>
<text x="276.02" y="772.00" font-size="11.68" font-weight="bold" stroke="#000" stroke-width="0.3" text-anchor="end" textLength="23.24" lengthAdjust="spacingAndGlyphs" transform="rotate(-90 276.02 772.00)">Ste2</text>
<rect x="286.23" y="738.60" width="11.6" height="24.90" fill="url(#gb)" stroke="#4a4a4a" stroke-width="0.7"/>
<text x="292.03" y="731.60" font-size="11.09" font-weight="bold" stroke="#000" stroke-width="0.3" text-anchor="middle" textLength="6.54" lengthAdjust="spacingAndGlyphs">3</text>
<text x="296.63" y="772.00" font-size="11.68" font-weight="bold" stroke="#000" stroke-width="0.3" text-anchor="end" textLength="23.05" lengthAdjust="spacingAndGlyphs" transform="rotate(-90 296.63 772.00)">Far1</text>
<rect x="306.84" y="738.60" width="11.6" height="24.90" fill="url(#gb)" stroke="#4a4a4a" stroke-width="0.7"/>
<text x="312.64" y="731.60" font-size="11.09" font-weight="bold" stroke="#000" stroke-width="0.3" text-anchor="middle" textLength="6.54" lengthAdjust="spacingAndGlyphs">3</text>
<text x="317.24" y="772.00" font-size="11.68" font-weight="bold" stroke="#000" stroke-width="0.3" text-anchor="end" textLength="29.68" lengthAdjust="spacingAndGlyphs" transform="rotate(-90 317.24 772.00)">Ste50</text>
<rect x="327.45" y="746.90" width="11.6" height="16.60" fill="url(#gb)" stroke="#4a4a4a" stroke-width="0.7"/>
<text x="333.25" y="739.90" font-size="11.09" font-weight="bold" stroke="#000" stroke-width="0.3" text-anchor="middle" textLength="6.54" lengthAdjust="spacingAndGlyphs">2</text>
<text x="337.85" y="772.00" font-size="11.68" font-weight="bold" stroke="#000" stroke-width="0.3" text-anchor="end" textLength="24.16" lengthAdjust="spacingAndGlyphs" transform="rotate(-90 337.85 772.00)">Fus3</text>
<rect x="348.06" y="746.90" width="11.6" height="16.60" fill="url(#gb)" stroke="#4a4a4a" stroke-width="0.7"/>
<text x="353.86" y="739.90" font-size="11.09" font-weight="bold" stroke="#000" stroke-width="0.3" text-anchor="middle" textLength="6.54" lengthAdjust="spacingAndGlyphs">2</text>
<text x="358.46" y="772.00" font-size="11.68" font-weight="bold" stroke="#000" stroke-width="0.3" text-anchor="end" textLength="27.62" lengthAdjust="spacingAndGlyphs" transform="rotate(-90 358.46 772.00)">Gpa1</text>
<rect x="368.67" y="746.90" width="11.6" height="16.60" fill="url(#gb)" stroke="#4a4a4a" stroke-width="0.7"/>
<text x="374.47" y="739.90" font-size="11.09" font-weight="bold" stroke="#000" stroke-width="0.3" text-anchor="middle" textLength="6.54" lengthAdjust="spacingAndGlyphs">2</text>
<text x="379.07" y="772.00" font-size="11.68" font-weight="bold" stroke="#000" stroke-width="0.3" text-anchor="end" textLength="27.29" lengthAdjust="spacingAndGlyphs" transform="rotate(-90 379.07 772.00)">Hog1</text>
<rect x="389.28" y="746.90" width="11.6" height="16.60" fill="url(#gr)" stroke="#4a4a4a" stroke-width="0.7"/>
<text x="395.08" y="739.90" font-size="11.09" font-weight="bold" stroke="#000" stroke-width="0.3" text-anchor="middle" textLength="6.54" lengthAdjust="spacingAndGlyphs">2</text>
<text x="399.68" y="772.00" font-size="11.68" font-weight="bold" stroke="#000" stroke-width="0.3" text-anchor="end" textLength="24.42" lengthAdjust="spacingAndGlyphs" transform="rotate(-90 399.68 772.00)">Ptp3</text>
<rect x="409.89" y="746.90" width="11.6" height="16.60" fill="url(#gb)" stroke="#4a4a4a" stroke-width="0.7"/>
<text x="415.69" y="739.90" font-size="11.09" font-weight="bold" stroke="#000" stroke-width="0.3" text-anchor="middle" textLength="6.54" lengthAdjust="spacingAndGlyphs">2</text>
<text x="420.29" y="772.00" font-size="11.68" font-weight="bold" stroke="#000" stroke-width="0.3" text-anchor="end" textLength="22.39" lengthAdjust="spacingAndGlyphs" transform="rotate(-90 420.29 772.00)">Sln1</text>
<rect x="430.50" y="746.90" width="11.6" height="16.60" fill="url(#gr)" stroke="#4a4a4a" stroke-width="0.7"/>
<text x="436.30" y="739.90" font-size="11.09" font-weight="bold" stroke="#000" stroke-width="0.3" text-anchor="middle" textLength="6.54" lengthAdjust="spacingAndGlyphs">2</text>
<text x="440.90" y="772.00" font-size="11.68" font-weight="bold" stroke="#000" stroke-width="0.3" text-anchor="end" textLength="21.92" lengthAdjust="spacingAndGlyphs" transform="rotate(-90 440.90 772.00)">Sst2</text>
<rect x="451.11" y="755.20" width="11.6" height="8.30" fill="url(#gb)" stroke="#4a4a4a" stroke-width="0.7"/>
<text x="456.91" y="748.20" font-size="11.09" font-weight="bold" stroke="#000" stroke-width="0.3" text-anchor="middle" textLength="6.54" lengthAdjust="spacingAndGlyphs">1</text>
<text x="461.51" y="772.00" font-size="11.68" font-weight="bold" stroke="#000" stroke-width="0.3" text-anchor="end" textLength="25.68" lengthAdjust="spacingAndGlyphs" transform="rotate(-90 461.51 772.00)">Hot1</text>
<rect x="471.72" y="755.20" width="11.6" height="8.30" fill="url(#gr)" stroke="#4a4a4a" stroke-width="0.7"/>
<text x="477.52" y="748.20" font-size="11.09" font-weight="bold" stroke="#000" stroke-width="0.3" text-anchor="middle" textLength="6.54" lengthAdjust="spacingAndGlyphs">1</text>
<text x="482.12" y="772.00" font-size="11.68" font-weight="bold" stroke="#000" stroke-width="0.3" text-anchor="end" textLength="23.52" lengthAdjust="spacingAndGlyphs" transform="rotate(-90 482.12 772.00)">Kss1</text>
<rect x="492.33" y="755.20" width="11.6" height="8.30" fill="url(#gr)" stroke="#4a4a4a" stroke-width="0.7"/>
<text x="498.13" y="748.20" font-size="11.09" font-weight="bold" stroke="#000" stroke-width="0.3" text-anchor="middle" textLength="6.54" lengthAdjust="spacingAndGlyphs">1</text>
<text x="502.73" y="772.00" font-size="11.68" font-weight="bold" stroke="#000" stroke-width="0.3" text-anchor="end" textLength="29.43" lengthAdjust="spacingAndGlyphs" transform="rotate(-90 502.73 772.00)">Msb2</text>
<rect x="512.94" y="755.20" width="11.6" height="8.30" fill="url(#gb)" stroke="#4a4a4a" stroke-width="0.7"/>
<text x="518.74" y="748.20" font-size="11.09" font-weight="bold" stroke="#000" stroke-width="0.3" text-anchor="middle" textLength="6.54" lengthAdjust="spacingAndGlyphs">1</text>
<text x="523.34" y="772.00" font-size="11.68" font-weight="bold" stroke="#000" stroke-width="0.3" text-anchor="end" textLength="24.42" lengthAdjust="spacingAndGlyphs" transform="rotate(-90 523.34 772.00)">Ptp2</text>
<rect x="533.55" y="755.20" width="11.6" height="8.30" fill="url(#gr)" stroke="#4a4a4a" stroke-width="0.7"/>
<text x="539.35" y="748.20" font-size="11.09" font-weight="bold" stroke="#000" stroke-width="0.3" text-anchor="middle" textLength="6.54" lengthAdjust="spacingAndGlyphs">1</text>
<text x="543.95" y="772.00" font-size="11.68" font-weight="bold" stroke="#000" stroke-width="0.3" text-anchor="end" textLength="26.10" lengthAdjust="spacingAndGlyphs" transform="rotate(-90 543.95 772.00)">Sho1</text>
<rect x="554.16" y="755.20" width="11.6" height="8.30" fill="url(#gb)" stroke="#4a4a4a" stroke-width="0.7"/>
<text x="559.96" y="748.20" font-size="11.09" font-weight="bold" stroke="#000" stroke-width="0.3" text-anchor="middle" textLength="6.54" lengthAdjust="spacingAndGlyphs">1</text>
<text x="564.56" y="772.00" font-size="11.68" font-weight="bold" stroke="#000" stroke-width="0.3" text-anchor="end" textLength="29.68" lengthAdjust="spacingAndGlyphs" transform="rotate(-90 564.56 772.00)">Ste11</text>
<rect x="80.9" y="574.0" width="10.8" height="9.6" fill="#00b0f0" stroke="#2a6a88" stroke-width="0.7"/>
<text x="98.20" y="582.20" font-size="13.85" textLength="279.76" lengthAdjust="spacingAndGlyphs">P-peps detected in at least 4 sub-experiments</text>
<text x="9.00" y="660.00" font-size="11.74" font-weight="bold" stroke="#000" stroke-width="0.3" text-anchor="middle" textLength="146.04" lengthAdjust="spacingAndGlyphs" transform="rotate(-90 9.00 660.00)">Number of detected P-peps</text>
<text x="0.20" y="557.40" font-size="22.1" font-weight="bold" textLength="15.30" lengthAdjust="spacingAndGlyphs">D</text>
</g>
</svg>
</body></html>
